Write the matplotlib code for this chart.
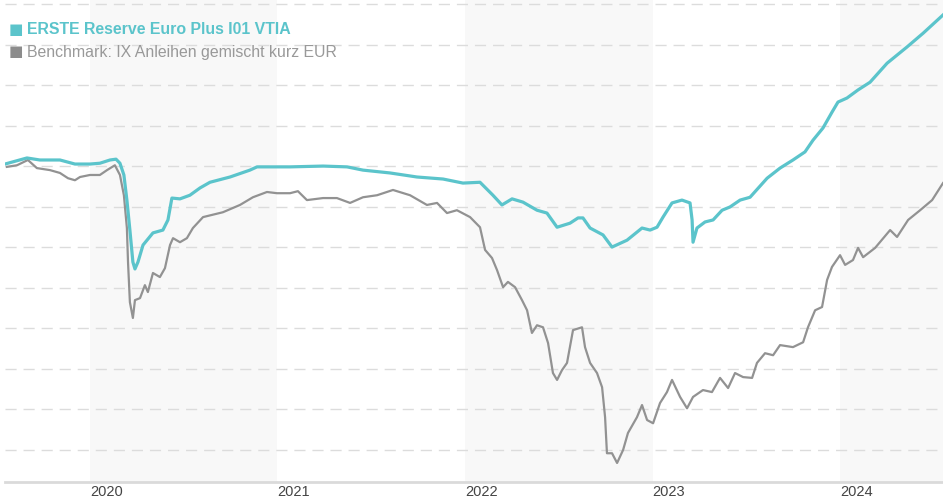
import numpy as np
import matplotlib.pyplot as plt

# decimal years / index values
fund_t = [2019.547, 2019.664, 2019.733, 2019.840, 2019.920, 2020.000, 2020.053, 2020.107,
          2020.139, 2020.160, 2020.181, 2020.197, 2020.213, 2020.229, 2020.240, 2020.256,
          2020.283, 2020.336, 2020.389, 2020.416, 2020.437, 2020.480, 2020.533, 2020.587,
          2020.640, 2020.747, 2020.853, 2020.891, 2020.997, 2021.067, 2021.243, 2021.371,
          2021.456, 2021.600, 2021.744, 2021.883, 2021.989, 2022.080, 2022.149, 2022.197,
          2022.251, 2022.309, 2022.384, 2022.437, 2022.491, 2022.560, 2022.603, 2022.629,
          2022.667, 2022.736, 2022.784, 2022.864, 2022.944, 2022.987, 2023.024, 2023.056,
          2023.104, 2023.157, 2023.200, 2023.211, 2023.216, 2023.237, 2023.280, 2023.323,
          2023.371, 2023.413, 2023.467, 2023.520, 2023.611, 2023.680, 2023.749, 2023.813,
          2023.856, 2023.909, 2023.957, 2023.989, 2024.037, 2024.096, 2024.160, 2024.251,
          2024.357, 2024.443, 2024.549]
fund_v = [100.05, 100.20, 100.15, 100.15, 100.05, 100.05, 100.07, 100.15,
          100.17, 100.07, 99.78, 99.16, 98.42, 97.63, 97.46, 97.63,
          98.05, 98.35, 98.42, 98.67, 99.21, 99.19, 99.28, 99.46,
          99.60, 99.73, 99.90, 99.98, 99.98, 99.98, 100.00, 99.98,
          99.90, 99.83, 99.73, 99.68, 99.58, 99.60, 99.28, 99.04,
          99.19, 99.11, 98.91, 98.84, 98.49, 98.59, 98.72, 98.72,
          98.47, 98.30, 98.00, 98.17, 98.47, 98.42, 98.49, 98.74,
          99.09, 99.16, 99.09, 98.67, 98.12, 98.47, 98.62, 98.67,
          98.91, 98.99, 99.16, 99.23, 99.70, 99.95, 100.15, 100.35,
          100.64, 100.94, 101.33, 101.58, 101.68, 101.88, 102.07, 102.54,
          102.94, 103.28, 103.73]

bench_t = [2019.557, 2019.611, 2019.669, 2019.717, 2019.787, 2019.840, 2019.883, 2019.920,
           2019.947, 2020.000, 2020.053, 2020.091, 2020.133, 2020.160, 2020.181, 2020.197,
           2020.203, 2020.213, 2020.229, 2020.240, 2020.267, 2020.293, 2020.309, 2020.336,
           2020.373, 2020.400, 2020.427, 2020.443, 2020.480, 2020.517, 2020.549, 2020.603,
           2020.709, 2020.800, 2020.869, 2020.944, 2020.997, 2021.067, 2021.109, 2021.157,
           2021.243, 2021.317, 2021.387, 2021.456, 2021.531, 2021.616, 2021.707, 2021.797,
           2021.851, 2021.904, 2021.957, 2022.027, 2022.080, 2022.107, 2022.144, 2022.171,
           2022.203, 2022.229, 2022.267, 2022.304, 2022.331, 2022.357, 2022.384, 2022.416,
           2022.443, 2022.469, 2022.491, 2022.517, 2022.544, 2022.576, 2022.624, 2022.640,
           2022.667, 2022.704, 2022.731, 2022.747, 2022.757, 2022.784, 2022.811, 2022.843,
           2022.869, 2022.917, 2022.944, 2022.971, 2023.003, 2023.040, 2023.077, 2023.104,
           2023.147, 2023.184, 2023.216, 2023.269, 2023.317, 2023.360, 2023.403, 2023.440,
           2023.483, 2023.531, 2023.557, 2023.600, 2023.643, 2023.680, 2023.749, 2023.803,
           2023.829, 2023.867, 2023.904, 2023.931, 2023.957, 2024.000, 2024.027, 2024.069,
           2024.096, 2024.123, 2024.187, 2024.267, 2024.304, 2024.363, 2024.427, 2024.491,
           2024.549]
bench_v = [99.98, 100.02, 100.15, 99.95, 99.90, 99.83, 99.70, 99.65,
           99.73, 99.78, 99.78, 99.90, 100.02, 99.78, 99.28, 98.47,
           97.63, 96.64, 96.25, 96.69, 96.74, 97.06, 96.89, 97.36,
           97.26, 97.48, 98.05, 98.22, 98.12, 98.22, 98.47, 98.74,
           98.86, 99.04, 99.23, 99.36, 99.33, 99.33, 99.38, 99.16,
           99.21, 99.21, 99.09, 99.23, 99.28, 99.41, 99.28, 99.04,
           99.09, 98.84, 98.91, 98.74, 98.49, 97.93, 97.73, 97.43,
           97.01, 97.14, 97.01, 96.69, 96.44, 95.88, 96.07, 96.02,
           95.63, 94.89, 94.72, 94.96, 95.14, 95.95, 96.02, 95.53,
           95.14, 94.89, 94.54, 93.80, 92.91, 92.91, 92.67, 92.99,
           93.41, 93.80, 94.10, 93.73, 93.65, 94.15, 94.42, 94.72,
           94.30, 94.02, 94.30, 94.47, 94.42, 94.77, 94.52, 94.89,
           94.79, 94.77, 95.14, 95.38, 95.33, 95.58, 95.53, 95.65,
           96.02, 96.44, 96.52, 97.19, 97.51, 97.80, 97.56, 97.68,
           97.98, 97.75, 97.98, 98.42, 98.25, 98.67, 98.91, 99.16,
           99.58]

years = [2020, 2021, 2022, 2023, 2024]
shaded_years = [2020, 2022, 2024]
fund_name = "ERSTE Reserve Euro Plus I01 VTIA"
bench_name = "Benchmark: IX Anleihen gemischt kurz EUR"

teal = "#5bc4cb"
grey = "#929292"

fig = plt.figure(figsize=(9.43, 5.0), dpi=100)
ax = fig.add_axes([5 / 943, 18 / 500, 938 / 943, 482 / 500])

for y in shaded_years:
    ax.axvspan(y, y + 1, color="#f8f8f8", lw=0, zorder=0)

ax.set_yticks(np.arange(93, 105))
ax.yaxis.grid(True, color="#dcdcdc", lw=1, dashes=(8, 5))
ax.set_axisbelow(True)

ax.plot(bench_t, bench_v, color=grey, lw=1.6, zorder=3)
ax.plot(fund_t, fund_v, color=teal, lw=2.3, zorder=4)

ax.set_xlim(2019.547, 2024.549)
ax.set_ylim(92.2, 104.1)

for s in ["top", "right", "left"]:
    ax.spines[s].set_visible(False)
ax.spines["bottom"].set_color("#dadada")
ax.spines["bottom"].set_linewidth(2)
ax.tick_params(left=False, labelleft=False, bottom=False, labelbottom=False)

for y in years:
    ax.text(y, -0.006, str(y), transform=ax.get_xaxis_transform(), ha="left", va="top",
            fontsize=10.5, color="#444444", family="Liberation Sans")

# legend
fig.text(9 / 943, 1 - 30 / 500, "■", color=teal, fontsize=11, va="center", family="DejaVu Sans")
fig.text(27 / 943, 1 - 30 / 500, fund_name, color=teal, fontsize=11.4, fontweight="bold",
         va="center", family="Liberation Sans")
fig.text(9 / 943, 1 - 52 / 500, "■", color="#8c8c8c", fontsize=11, va="center", family="DejaVu Sans")
fig.text(27 / 943, 1 - 52 / 500, bench_name, color="#999999", fontsize=11.4,
         va="center", family="Liberation Sans")

fig.savefig("out.png", dpi=100)
